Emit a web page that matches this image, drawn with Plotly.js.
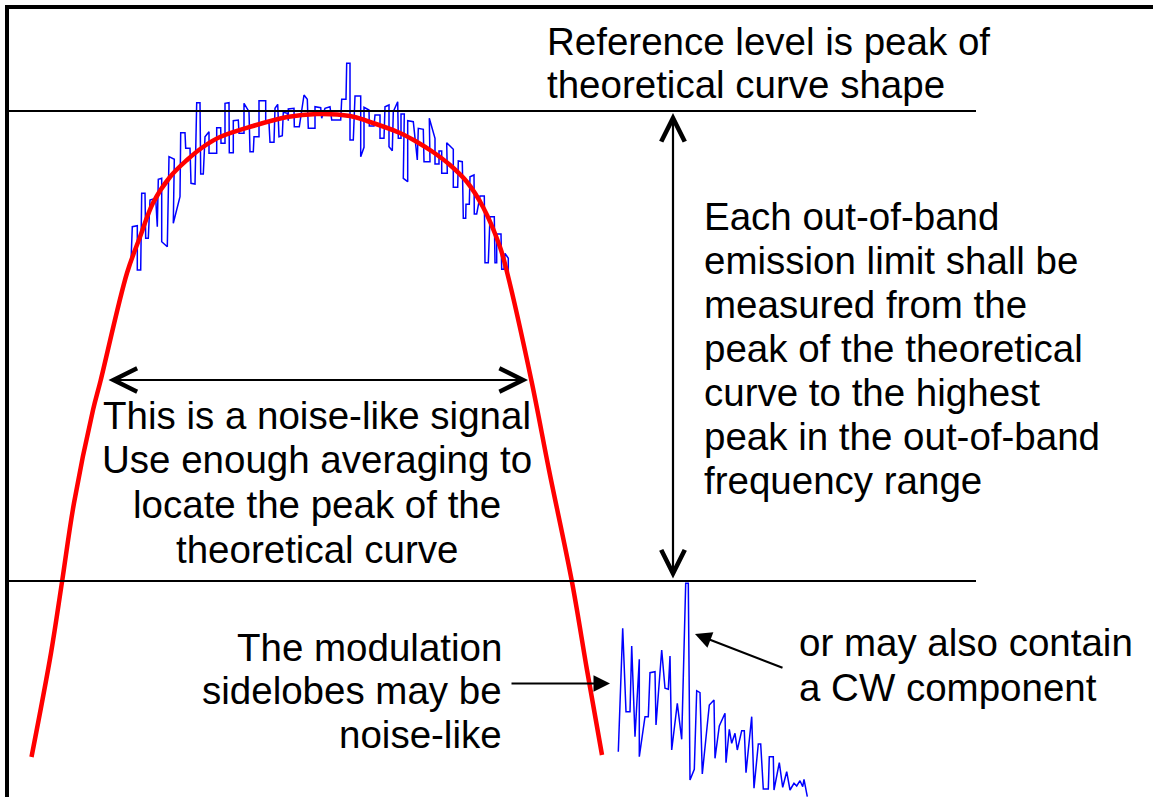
<!DOCTYPE html>
<html>
<head>
<meta charset="utf-8">
<script src="https://cdn.plot.ly/plotly-3.0.1.min.js"></script>
<style>
  html, body { margin: 0; padding: 0; background: #ffffff; }
  #chart { width: 1153px; height: 797px; }
</style>
</head>
<body>
<div id="chart"></div>
<script>
// ---- Data (frequency in arbitrary units, level in dB relative to reference) ----
const curveFreq = [3.15, 5.1, 6.2, 7.4, 9.3, 10.05, 12.7, 14.0, 15.3, 17.0, 18.7, 20.3, 22.0, 25.3, 28.7, 31.7,
                   35.0, 36.7, 40.0, 41.7, 43.3, 45.0, 46.7, 48.3, 50.0, 50.7, 53.15, 54.9, 57.2, 58.7, 60.2];
const curveLevel = [-64.6, -54.2, -47.1, -39.2, -29.9, -27.0, -16.2, -12.6, -9.2, -6.6, -4.9, -3.6, -2.6, -1.5, -0.6, -0.3,
                    -0.5, -1.0, -2.2, -3.1, -4.1, -5.4, -7.1, -9.6, -13.6, -16.1, -27.0, -35.9, -47.1, -55.9, -64.4];

const noiseFreq = [13.1, 13.23, 13.73, 13.73, 14.07, 14.17, 14.5, 14.57, 14.83, 15.0, 15.57, 15.73, 15.83, 16.17, 16.17,
  16.73, 16.9, 17.43, 17.33, 18.0, 18.07, 18.5, 18.57, 19.0, 19.1, 19.5, 19.67, 20.0, 20.07, 20.33, 20.5, 20.9, 20.9,
  21.67, 21.67, 22.07, 22.1, 22.5, 22.5, 22.9, 22.93, 23.33, 23.33, 23.83, 23.9, 24.4, 24.4, 24.9, 25.0, 25.33, 25.4,
  25.9, 25.9, 26.57, 26.57, 26.9, 27.0, 27.4, 27.5, 27.77, 27.9, 28.23, 28.33, 28.73, 28.83, 28.83, 29.4, 29.43, 29.93,
  30.4, 30.73, 30.83, 31.5, 31.5, 32.07, 32.17, 32.5, 33.0, 33.17, 34.07, 34.17, 34.6, 34.67, 35.0, 35.0, 35.33, 35.5,
  36.07, 36.07, 36.4, 36.4, 36.9, 36.93, 37.4, 37.5, 38.0, 38.0, 38.4, 38.5, 38.9, 38.9, 39.23, 39.33, 39.77, 39.83,
  40.1, 40.1, 40.43, 40.33, 40.77, 40.77, 41.33, 41.73, 41.83, 42.33, 42.4, 43.0, 42.93, 43.5, 43.5, 43.9, 43.9, 44.17,
  44.17, 44.73, 44.67, 45.33, 45.33, 45.77, 45.83, 46.23, 46.33, 46.57, 46.6, 46.93, 47.0, 47.4, 47.43, 47.67, 48.0,
  48.43, 48.5, 48.83, 49.0, 49.43, 49.5, 49.67, 49.67, 50.1, 50.17, 50.4, 50.5, 50.83, 50.83];
const noiseLevel = [-15.1, -11.57, -11.47, -15.9, -15.9, -8.23, -8.23, -12.73, -12.73, -8.9, -8.73, -11.57, -6.83, -6.73, -13.07,
  -13.57, -4.57, -4.83, -11.23, -8.57, -2.17, -2.17, -3.73, -3.73, -7.23, -7.3, 0.83, 0.83, -6.3, -6.3, -2.57, -2.07, -4.23,
  -4.23, -1.67, -1.67, -3.23, -3.23, 0.77, 0.83, -4.17, -4.17, -0.97, -0.9, -2.23, -2.23, 0.77, -0.07, -4.07, -4.07, -2.57,
  -2.57, 1.03, 1.03, -1.23, -1.23, -3.13, -3.13, 0.27, 0.67, -2.57, -2.47, -0.13, -0.23, -0.97, 0.2, 0.27, -1.57, -1.57,
  1.6, 1.17, -1.73, -1.73, 0.43, 0.33, -0.73, 0.27, 0.43, -0.9, -0.9, 1.17, 1.17, 4.77, 4.77, -2.9, -2.9, 1.5,
  1.5, -4.57, -3.63, 0.37, 0.1, -1.5, -1.5, -0.4, -0.4, -2.73, -2.73, 0.43, 0.6, -3.57, -3.97, -0.07, 0.93, -2.73,
  -2.73, -0.3, -0.3, -6.73, -7.07, -0.97, -1.07, -4.9, -1.73, -1.83, -5.07, -5.07, -0.73, -2.73, -5.3, -5.3, -4.0, -4.0,
  -6.23, -6.23, -3.17, -3.83, -7.63, -7.63, -5.0, -5.07, -10.73, -10.73, -9.33, -9.33, -6.57, -6.4, -10.3, -10.3, -8.5,
  -8.5, -15.17, -15.17, -10.57, -10.57, -15.17, -15.17, -12.3, -12.3, -15.83, -15.83, -14.23, -14.73, -16.1];

const sideFreq = [61.83, 62.27, 62.6, 63.0, 63.17, 63.5, 63.93, 63.93, 64.5, 64.83, 65.0, 65.5, 65.6, 66.17, 66.5, 66.83,
  67.0, 67.17, 67.73, 68.17, 68.57, 68.83, 69.0, 69.43, 69.67, 70.0, 70.23, 70.93, 71.4, 71.5, 71.93, 72.5, 72.6, 72.93,
  73.17, 73.5, 73.73, 74.17, 74.43, 74.6, 75.17, 75.4, 75.83, 76.07, 76.33, 76.83, 76.93, 77.33, 77.4, 77.93, 78.27,
  78.67, 79.0, 79.4, 79.67, 80.0, 80.27, 80.4, 80.73];
const sideLevel = [-64.07, -51.73, -60.07, -60.07, -53.5, -62.57, -54.83, -64.57, -60.57, -60.57, -56.17, -56.07, -61.4, -53.9,
  -57.73, -57.83, -54.5, -63.9, -59.23, -62.83, -47.23, -47.23, -66.9, -65.83, -57.97, -58.17, -66.3, -59.4, -58.9, -64.73,
  -61.5, -60.23, -65.17, -61.83, -63.23, -62.23, -63.9, -61.97, -61.97, -66.17, -60.57, -67.73, -63.3, -63.3, -67.8, -67.8,
  -64.57, -64.57, -67.9, -65.17, -67.63, -66.07, -67.9, -67.23, -67.5, -66.97, -67.57, -66.83, -68.57];

const referenceLevel = 0;
const limitLevel = -47;

const topText = ["Reference level is peak of", "theoretical curve shape"];
const limitText = ["Each out-of-band", "emission limit shall be", "measured from the", "peak of the theoretical",
                   "curve to the highest", "peak in the out-of-band", "frequency range"];
const noiseText = ["This is a noise-like signal", "Use enough averaging to", "locate the peak of the", "theoretical curve"];
const sidelobeText = ["The modulation", "sidelobes may be", "noise-like"];
const cwText = ["or may also contain", "a CW component"];

// ---- Drawing ----
const W = 1153, H = 797;
const FONT = {family: "'Liberation Sans', Arial, sans-serif", size: 38.5, color: '#000000'};

const traces = [
  {x: noiseFreq, y: noiseLevel, mode: 'lines', line: {color: '#0000ff', width: 1.5}, hoverinfo: 'skip'},
  {x: sideFreq, y: sideLevel, mode: 'lines', line: {color: '#0000ff', width: 1.5}, hoverinfo: 'skip'},
  {x: curveFreq, y: curveLevel, mode: 'lines', line: {color: '#ff0000', width: 4.5, shape: 'spline', smoothing: 1}, hoverinfo: 'skip'}
];

const annotations = [];
function textBlock(lines, x, yTop, step, anchor) {
  lines.forEach((t, i) => {
    annotations.push({x: x, y: yTop - i * step, xref: 'x', yref: 'y', text: t, showarrow: false,
      xanchor: anchor, yanchor: 'middle', font: FONT});
  });
}
textBlock(topText, 54.5, 7.0, 4.35, 'left');
textBlock(limitText, 70.2, -10.5, 4.4, 'left');
textBlock(noiseText, 31.65, -30.4, 4.47, 'center');
textBlock(sidelobeText, 50.4, -53.6, 4.35, 'right');
textBlock(cwText, 79.7, -53.1, 4.5, 'left');

// arrows
const dbl = {xref: 'x', yref: 'y', axref: 'x', ayref: 'y', text: '', showarrow: true,
  arrowhead: 5, startarrowhead: 5, arrowside: 'end+start', arrowwidth: 2.2, arrowsize: 2.1, startarrowsize: 2.1,
  standoff: 0, startstandoff: 0, arrowcolor: '#000000'};
annotations.push(Object.assign({}, dbl, {x: 52.8, y: -26.9, ax: 10.7, ay: -26.9}));
annotations.push(Object.assign({}, dbl, {x: 67.3, y: referenceLevel - 0.2, ax: 67.3, ay: limitLevel + 0.1}));
const single = {xref: 'x', yref: 'y', axref: 'x', ayref: 'y', text: '', showarrow: true,
  arrowhead: 2, arrowwidth: 2.2, arrowsize: 1.5, standoff: 0, arrowcolor: '#000000'};
annotations.push(Object.assign({}, single, {x: 61.0, y: -57.25, ax: 51.0, ay: -57.25}));
annotations.push(Object.assign({}, single, {x: 69.5, y: -52.3, ax: 78.4, ay: -55.73}));

const shapes = [
  {type: 'line', xref: 'x', yref: 'y', x0: 0.7, x1: 97.6, y0: referenceLevel, y1: referenceLevel, line: {color: '#000000', width: 2}},
  {type: 'line', xref: 'x', yref: 'y', x0: 0.7, x1: 97.6, y0: limitLevel, y1: limitLevel, line: {color: '#000000', width: 2}},
  {type: 'line', xref: 'paper', yref: 'paper', x0: 5 / W, x1: 1, y0: 1 - 7 / H, y1: 1 - 7 / H, line: {color: '#000000', width: 4}},
  {type: 'line', xref: 'paper', yref: 'paper', x0: 7 / W, x1: 7 / W, y0: 0, y1: 1 - 5 / H, line: {color: '#000000', width: 4}}
];

const layout = {
  width: W, height: H,
  margin: {l: 0, r: 0, t: 0, b: 0, pad: 0},
  paper_bgcolor: '#ffffff', plot_bgcolor: '#ffffff',
  showlegend: false,
  xaxis: {range: [0, 115.3], visible: false, fixedrange: true},
  yaxis: {range: [-68.6, 11.1], visible: false, fixedrange: true},
  annotations: annotations,
  shapes: shapes
};

Plotly.newPlot('chart', traces, layout, {displayModeBar: false, staticPlot: true});
</script>
</body>
</html>
